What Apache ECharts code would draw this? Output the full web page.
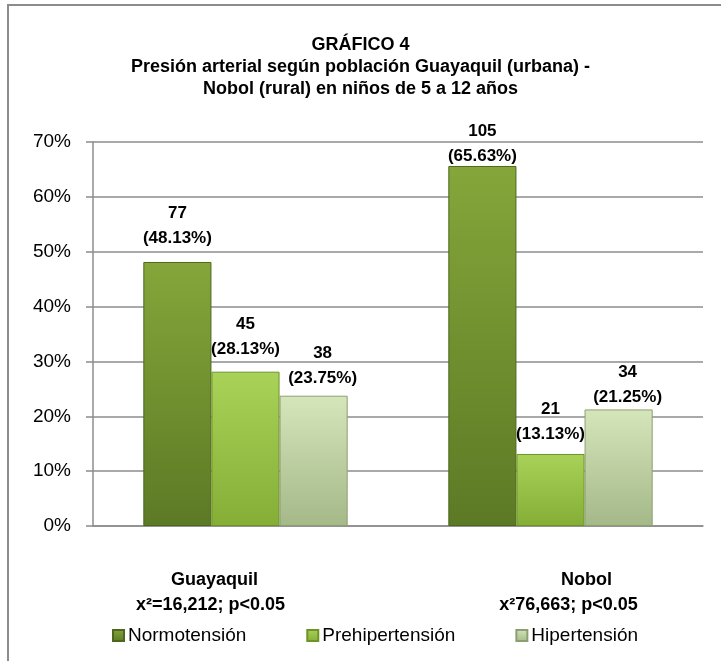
<!DOCTYPE html>
<html>
<head>
<meta charset="utf-8">
<script src="https://cdn.jsdelivr.net/npm/echarts@6/dist/echarts.min.js"></script>
<style>
  html, body { margin: 0; padding: 0; background: #fff; }
  #chart { width: 721px; height: 661px; }
</style>
</head>
<body>
<div id="chart"></div>
<script>
  // datos del gráfico
  const categorias = ['Guayaquil', 'Nobol'];
  const subtitulos = ['x²=16,212; p<0.05', 'x²76,663; p<0.05'];
  const series = ['Normotensión', 'Prehipertensión', 'Hipertensión'];
  const normoN = [77, 105];
  const normoPct = [48.13, 65.63];
  const prehipN = [45, 21];
  const prehipPct = [28.13, 13.13];
  const hipN = [38, 34];
  const hipPct = [23.75, 21.25];
  const ticksY = [0, 10, 20, 30, 40, 50, 60, 70];

  const FONT = '"Liberation Sans", Arial, sans-serif';

  function grad(top, bottom) {
    return new echarts.graphic.LinearGradient(0, 0, 0, 1, [
      { offset: 0, color: top },
      { offset: 1, color: bottom }
    ]);
  }

  // dist: separación de la etiqueta respecto a cada barra (como en el original)
  function serie(nombre, pct, n, top, bottom, borde, dx, dist) {
    return {
      name: nombre,
      type: 'bar',
      barGap: '0%',
      barCategoryGap: '33%',
      data: pct.map(function(v, i) {
        return { value: v, n: n[i], label: { distance: dist[i] } };
      }),
      itemStyle: { color: grad(top, bottom), borderColor: borde, borderWidth: 1 },
      label: {
        show: true,
        position: 'top',
        offset: [dx, 0],
        fontFamily: FONT,
        fontWeight: 'bold',
        fontSize: 17,
        lineHeight: 25,
        color: '#000',
        formatter: function(p) { return p.data.n + '\n(' + p.value.toFixed(2) + '%)'; }
      }
    };
  }

  const chart = echarts.init(document.getElementById('chart'));
  chart.setOption({
    backgroundColor: '#fff',
    animation: false,
    title: {
      text: 'GRÁFICO 4\nPresión arterial según población Guayaquil (urbana) -\nNobol (rural) en niños de 5 a 12 años',
      left: 'center',
      top: 29,
      textStyle: { fontFamily: FONT, fontWeight: 'bold', fontSize: 18, lineHeight: 22, color: '#000' }
    },
    legend: {
      data: series,
      left: 107,
      top: 621,
      itemWidth: 11,
      itemHeight: 11,
      itemGap: 60,
      icon: 'rect',
      textStyle: { fontFamily: FONT, fontSize: 19, color: '#000', padding: [0, 0, 0, -1] }
    },
    graphic: [{
      type: 'rect',
      shape: { x: 8, y: 5, width: 800, height: 800 },
      style: { fill: 'none', stroke: '#8c8c8c', lineWidth: 2 },
      z: -1
    }],
    grid: { left: 93, right: 18, top: 142, bottom: 135 },
    xAxis: {
      type: 'category',
      data: categorias,
      axisLine: { lineStyle: { color: '#8c8c8c', width: 1.5 } },
      axisTick: { show: false },
      axisLabel: {
        margin: 42,
        interval: 0,
        fontFamily: FONT,
        formatter: function(v) {
          const k = categorias.indexOf(v);
          return k === 0
            ? '{a|' + v + '}\n{b|' + subtitulos[k] + '}'
            : '{c|' + v + '}\n{d|' + subtitulos[k] + '}';
        },
        rich: {
          a: { fontFamily: FONT, fontWeight: 'bold', fontSize: 18, lineHeight: 25, color: '#000', padding: [0, 62, 0, 0] },
          b: { fontFamily: FONT, fontWeight: 'bold', fontSize: 18, lineHeight: 25, color: '#000', padding: [0, 70, 0, 0] },
          c: { fontFamily: FONT, fontWeight: 'bold', fontSize: 18, lineHeight: 25, color: '#000', padding: [0, 0, 0, 72] },
          d: { fontFamily: FONT, fontWeight: 'bold', fontSize: 18, lineHeight: 25, color: '#000', padding: [0, 0, 0, 36] }
        }
      }
    },
    yAxis: {
      type: 'value',
      min: ticksY[0],
      max: ticksY[ticksY.length - 1],
      interval: 10,
      axisLine: { show: true, lineStyle: { color: '#8c8c8c', width: 1.5 } },
      axisTick: { show: true, length: 7, lineStyle: { color: '#8c8c8c', width: 1.5 } },
      splitLine: { lineStyle: { color: '#8c8c8c', width: 1.5 } },
      axisLabel: {
        margin: 22,
        fontFamily: FONT,
        fontSize: 19,
        color: '#000',
        formatter: '{value}%'
      }
    },
    series: [
      serie(series[0], normoPct, normoN, '#84a63a', '#5c7a25', '#4d681c', 0, [11, -3]),
      serie(series[1], prehipPct, prehipN, '#a8d258', '#84ae35', '#6e9428', 0, [10, 7]),
      serie(series[2], hipPct, hipN, '#d6e6bb', '#a4b888', '#8c9f70', 9, [5, 0])
    ]
  });
</script>
</body>
</html>
